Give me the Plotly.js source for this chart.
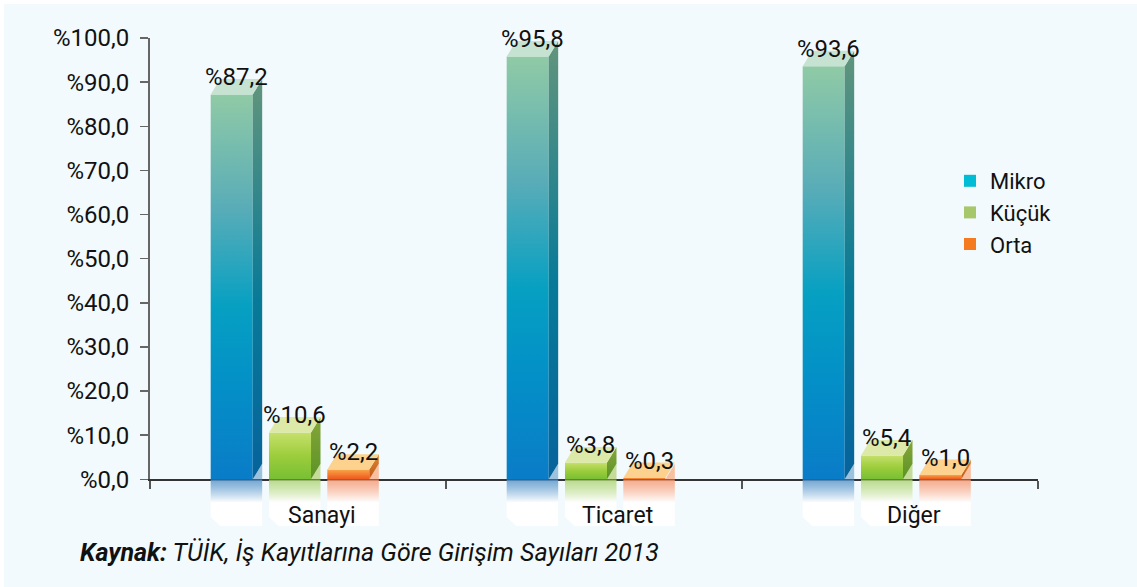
<!DOCTYPE html>
<html><head><meta charset="utf-8">
<script src="https://cdn.plot.ly/plotly-3.0.1.min.js"></script>
<style>html,body{margin:0;padding:0;background:#f2fafd}</style>
</head><body><div id="chart" style="width:1137px;height:587px"></div>
<script>
// ---- data ----
const categories = ['Sanayi', 'Ticaret', 'Diğer'];
const seriesNames = ['Mikro', 'Küçük', 'Orta'];
const mikro = [87.2, 95.8, 93.6];
const kucuk = [10.6, 3.8, 5.4];
const orta = [2.2, 0.3, 1.0];
const yTickVals = [0, 10, 20, 30, 40, 50, 60, 70, 80, 90, 100];
const yTickText = ['%0,0', '%10,0', '%20,0', '%30,0', '%40,0', '%50,0', '%60,0', '%70,0', '%80,0', '%90,0', '%100,0'];
const sourceBold = 'Kaynak:';
const sourceRest = ' TÜİK, İş Kayıtlarına Göre Girişim Sayıları 2013';

// ---- styles ----
const seriesValues = [mikro, kucuk, orta];
const styles = [
  { legend: '#00bcd4',
    front: [[0, '#0a7cc8'], [0.25, '#0390c7'], [0.45, '#06a0c2'], [0.7, '#58acb8'], [1, '#90caa6']],
    side: [[0, '#06639c'], [0.45, '#087a98'], [1, '#62957c']],
    top: '#c6e2d0', floor: '#9cc2de', refl: 'rgba(80,145,200,0.8)' },
  { legend: '#a6c86a',
    front: [[0, '#78bf34'], [0.5, '#9ccd3c'], [1, '#c6e06c']],
    side: [[0, '#5b9226'], [1, '#86a63a']],
    top: '#dde9a8', floor: '#c4dc98', refl: 'rgba(170,210,110,0.8)' },
  { legend: '#f47b20',
    front: [[0, '#ee561c'], [1, '#f8a446']],
    side: [[0, '#c4561a'], [1, '#d88a30']],
    top: '#fcd28e', floor: '#f8c0a0', refl: 'rgba(245,150,110,0.8)' }
];
const GROUP_START = -0.295, STEP = 0.197, W = 0.142, DX = 0.032, DY = 3.5, REFL = 10.4, CHAMF = 2.0, LABEL_PAD = 0.4;
const CAT_LABEL_SHIFT = 0.08;
const D = 46.7 / 488;
const FONT = 'Roboto, sans-serif';

const fmt = v => '%' + v.toFixed(1).replace('.', ',');
const traces = [];
const annotations = [];
function poly(x, y, opts, yaxis) {
  const t = { x: x, y: y, mode: 'lines', line: { width: 0 }, fill: 'toself',
    hoverinfo: 'skip', showlegend: false, yaxis: yaxis || 'y' };
  Object.assign(t, opts);
  traces.push(t);
}

seriesValues.forEach((vals, j) => {
  const st = styles[j];
  vals.forEach((v, i) => {
    const x0 = i + GROUP_START + j * STEP, x1 = x0 + W, x2 = x1 + DX;
    // reflection under the axis
    poly([x0, x2, x2, x0 + DX, x0, x0], [0, 0, -REFL, -REFL, -REFL + CHAMF, 0],
      { fillgradient: { type: 'vertical', start: -REFL, stop: 0,
        colorscale: [[0, '#ffffff'], [0.5, '#ffffff'], [1, st.refl]] } }, 'y2');
    // floor triangle under side face
    poly([x1, x2, x2, x1], [0, 0, DY, 0], { fillcolor: st.floor });
    // front face
    poly([x0, x1, x1, x0, x0], [0, 0, v, v, 0],
      { fillgradient: { type: 'vertical', start: 0, stop: v, colorscale: st.front } });
    // side face
    poly([x1, x2, x2, x1, x1], [0, DY, v + DY, v, 0],
      { fillgradient: { type: 'vertical', start: 0, stop: v + DY, colorscale: st.side } });
    // top face
    poly([x0, x1, x2, x0 + DX, x0], [v, v, v + DY, v + DY, v], { fillcolor: st.top });
    // value label
    annotations.push({ xref: 'x', yref: 'y', x: x0 + (W + DX) / 2, y: v + DY + LABEL_PAD,
      text: fmt(v), showarrow: false, xanchor: 'center', yanchor: 'middle',
      font: { size: 24, color: '#111', family: FONT } });
  });
});
// category labels
categories.forEach((c, i) => {
  annotations.push({ xref: 'x', yref: 'paper', x: i + CAT_LABEL_SHIFT, y: 0.0225, text: c,
    showarrow: false, xanchor: 'center', yanchor: 'middle',
    font: { size: 23, color: '#111', family: FONT } });
});
// legend entries
seriesNames.forEach((name, j) => {
  traces.push({ x: [null], y: [null], name: name, mode: 'markers', type: 'scatter',
    marker: { symbol: 'square', size: 14, color: styles[j].legend }, showlegend: true });
});
annotations.push({
  xref: 'paper', yref: 'paper', x: -0.0811, y: -0.0553, xanchor: 'left', yanchor: 'middle',
  showarrow: false, text: '<b><i>' + sourceBold + '</i></b><i>' + sourceRest + '</i>',
  font: { size: 25, color: '#111', family: FONT }
});

const layout = {
  width: 1137, height: 587,
  margin: { l: 150, r: 99, t: 38, b: 61, pad: 0 },
  paper_bgcolor: '#f2fafd', plot_bgcolor: 'rgba(0,0,0,0)',
  font: { family: FONT, color: '#111' },
  showlegend: true,
  xaxis: {
    range: [-0.5, 2.5], tickmode: 'array', tickvals: [-0.5, 0.5, 1.5, 2.5], showticklabels: false,
    ticks: 'outside', ticklen: 8, tickcolor: '#555', tickwidth: 1.5,
    showline: true, linecolor: '#333', linewidth: 1.5, showgrid: false, zeroline: false,
    anchor: 'y', fixedrange: true
  },
  yaxis: {
    domain: [D, 1], range: [0, 100], tickmode: 'array', tickvals: yTickVals, ticktext: yTickText,
    ticks: 'outside', ticklen: 8, tickcolor: '#666', tickwidth: 1.5,
    showline: true, linecolor: '#666', linewidth: 2, showgrid: false, zeroline: false,
    tickfont: { size: 24, color: '#111' }, ticklabelstandoff: 6, fixedrange: true
  },
  yaxis2: { domain: [0, D], range: [-REFL, 0], visible: false, anchor: 'x', fixedrange: true },
  legend: { x: 0.9009, y: 0.75, xanchor: 'left', yanchor: 'top', bgcolor: 'rgba(0,0,0,0)',
    font: { size: 22, color: '#111' }, itemsizing: 'constant', tracegroupgap: 0 },
  shapes: [
    { type: 'rect', xref: 'paper', yref: 'paper', x0: -0.1689, x1: -0.1644, y0: -0.126, y1: 1.078,
      fillcolor: '#ffffff', line: { width: 0 }, layer: 'below' },
    { type: 'rect', xref: 'paper', yref: 'paper', x0: -0.1689, x1: 1.112, y0: 1.0697, y1: 1.078,
      fillcolor: '#ffffff', line: { width: 0 }, layer: 'below' }
  ],
  annotations: annotations
};
Plotly.newPlot('chart', traces, layout, { displayModeBar: false, staticPlot: true });
</script></body></html>
